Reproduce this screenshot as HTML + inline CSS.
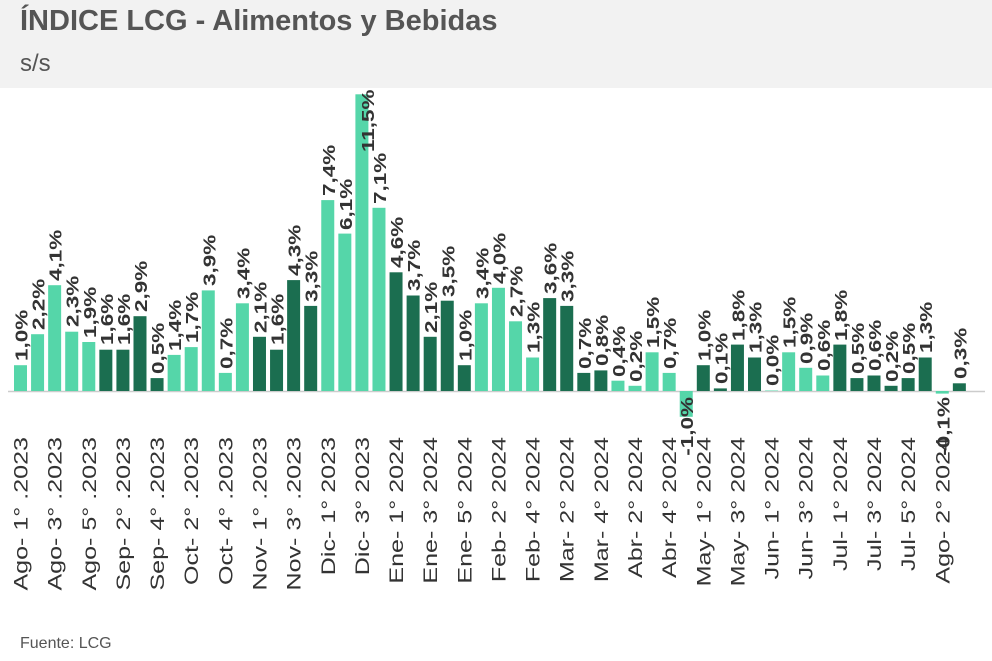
<!DOCTYPE html>
<html><head><meta charset="utf-8"><style>
body{margin:0;width:992px;height:661px;background:#fff;overflow:hidden;font-family:"Liberation Sans",sans-serif}
.hd{position:absolute;left:0;top:0;width:992px;height:88px;background:#f2f2f2}
.t{position:absolute;left:20px;top:5px;font-size:29px;font-weight:bold;color:#555}
.s{position:absolute;left:20px;top:50px;font-size:24px;color:#555}
.f{position:absolute;left:20px;top:635px;font-size:16px;color:#555}
svg{position:absolute;left:0;top:0}
.v{font-size:18px;font-weight:bold;fill:#333}
.x{font-size:19px;fill:#333}
</style></head><body>
<div class="hd"></div><div class="t">ÍNDICE LCG - Alimentos y Bebidas</div><div class="s">s/s</div>
<svg width="992" height="661">
<line x1="8" y1="391.5" x2="985" y2="391.5" stroke="#ccc" stroke-width="1.5"/>
<g fill="#55d6a9">
<rect x="14" y="365.2" width="13" height="25.8"/><rect x="31.07" y="334.2" width="13" height="56.8"/><rect x="48.14" y="285.2" width="13" height="105.8"/><rect x="65.21" y="331.7" width="13" height="59.3"/><rect x="82.28" y="342" width="13" height="49"/>
<rect x="167.63" y="354.9" width="13" height="36.1"/><rect x="184.7" y="347.1" width="13" height="43.9"/><rect x="201.77" y="290.4" width="13" height="100.6"/><rect x="218.84" y="372.9" width="13" height="18.1"/><rect x="235.91" y="303.3" width="13" height="87.7"/>
<rect x="321.26" y="200.1" width="13" height="190.9"/><rect x="338.33" y="233.6" width="13" height="157.4"/><rect x="355.4" y="94.3" width="13" height="296.7"/><rect x="372.47" y="207.8" width="13" height="183.2"/>
<rect x="474.89" y="303.3" width="13" height="87.7"/><rect x="491.96" y="287.8" width="13" height="103.2"/><rect x="509.03" y="321.3" width="13" height="69.7"/><rect x="526.1" y="357.5" width="13" height="33.5"/>
<rect x="611.45" y="380.7" width="13" height="10.3"/><rect x="628.52" y="385.8" width="13" height="5.2"/><rect x="645.59" y="352.3" width="13" height="38.7"/><rect x="662.66" y="372.9" width="13" height="18.1"/><rect x="679.73" y="391" width="13" height="25.8"/>
<rect x="765.08" y="390.5" width="13" height="0.5"/><rect x="782.15" y="352.3" width="13" height="38.7"/><rect x="799.22" y="367.8" width="13" height="23.2"/><rect x="816.29" y="375.5" width="13" height="15.5"/>
<rect x="935.78" y="391" width="13" height="2.6"/>
</g>
<g fill="#1b6e50">
<rect x="99.35" y="349.7" width="13" height="41.3"/><rect x="116.42" y="349.7" width="13" height="41.3"/><rect x="133.49" y="316.2" width="13" height="74.8"/><rect x="150.56" y="378.1" width="13" height="12.9"/>
<rect x="252.98" y="336.8" width="13" height="54.2"/><rect x="270.05" y="349.7" width="13" height="41.3"/><rect x="287.12" y="280.1" width="13" height="110.9"/><rect x="304.19" y="305.9" width="13" height="85.1"/>
<rect x="389.54" y="272.3" width="13" height="118.7"/><rect x="406.61" y="295.5" width="13" height="95.5"/><rect x="423.68" y="336.8" width="13" height="54.2"/><rect x="440.75" y="300.7" width="13" height="90.3"/><rect x="457.82" y="365.2" width="13" height="25.8"/>
<rect x="543.17" y="298.1" width="13" height="92.9"/><rect x="560.24" y="305.9" width="13" height="85.1"/><rect x="577.31" y="372.9" width="13" height="18.1"/><rect x="594.38" y="370.4" width="13" height="20.6"/>
<rect x="696.8" y="365.2" width="13" height="25.8"/><rect x="713.87" y="388.4" width="13" height="2.6"/><rect x="730.94" y="344.6" width="13" height="46.4"/><rect x="748.01" y="357.5" width="13" height="33.5"/>
<rect x="833.36" y="344.6" width="13" height="46.4"/><rect x="850.43" y="378.1" width="13" height="12.9"/><rect x="867.5" y="375.5" width="13" height="15.5"/><rect x="884.57" y="385.8" width="13" height="5.2"/><rect x="901.64" y="378.1" width="13" height="12.9"/><rect x="918.71" y="357.5" width="13" height="33.5"/>
<rect x="952.85" y="383.3" width="13" height="7.7"/>
</g>
<g class="v">
<text transform="translate(27.5,361) rotate(-90) scale(1.25,1)">1,0%</text>
<text transform="translate(44.6,330) rotate(-90) scale(1.25,1)">2,2%</text>
<text transform="translate(61.6,281) rotate(-90) scale(1.25,1)">4,1%</text>
<text transform="translate(78.7,327) rotate(-90) scale(1.25,1)">2,3%</text>
<text transform="translate(95.8,338) rotate(-90) scale(1.25,1)">1,9%</text>
<text transform="translate(112.9,345) rotate(-90) scale(1.25,1)">1,6%</text>
<text transform="translate(129.9,345) rotate(-90) scale(1.25,1)">1,6%</text>
<text transform="translate(147,312) rotate(-90) scale(1.25,1)">2,9%</text>
<text transform="translate(164.1,374) rotate(-90) scale(1.25,1)">0,5%</text>
<text transform="translate(181.1,351) rotate(-90) scale(1.25,1)">1,4%</text>
<text transform="translate(198.2,343) rotate(-90) scale(1.25,1)">1,7%</text>
<text transform="translate(215.3,286) rotate(-90) scale(1.25,1)">3,9%</text>
<text transform="translate(232.3,369) rotate(-90) scale(1.25,1)">0,7%</text>
<text transform="translate(249.4,299) rotate(-90) scale(1.25,1)">3,4%</text>
<text transform="translate(266.5,333) rotate(-90) scale(1.25,1)">2,1%</text>
<text transform="translate(283.6,345) rotate(-90) scale(1.25,1)">1,6%</text>
<text transform="translate(300.6,276) rotate(-90) scale(1.25,1)">4,3%</text>
<text transform="translate(317.7,302) rotate(-90) scale(1.25,1)">3,3%</text>
<text transform="translate(334.8,196) rotate(-90) scale(1.25,1)">7,4%</text>
<text transform="translate(351.8,230) rotate(-90) scale(1.25,1)">6,1%</text>
<text transform="translate(374,152) rotate(-90) scale(1.25,1)">11,5%</text>
<text transform="translate(386,204) rotate(-90) scale(1.25,1)">7,1%</text>
<text transform="translate(403,268) rotate(-90) scale(1.25,1)">4,6%</text>
<text transform="translate(420.1,291) rotate(-90) scale(1.25,1)">3,7%</text>
<text transform="translate(437.2,333) rotate(-90) scale(1.25,1)">2,1%</text>
<text transform="translate(454.3,297) rotate(-90) scale(1.25,1)">3,5%</text>
<text transform="translate(471.3,361) rotate(-90) scale(1.25,1)">1,0%</text>
<text transform="translate(488.4,299) rotate(-90) scale(1.25,1)">3,4%</text>
<text transform="translate(505.5,284) rotate(-90) scale(1.25,1)">4,0%</text>
<text transform="translate(522.5,317) rotate(-90) scale(1.25,1)">2,7%</text>
<text transform="translate(539.6,353) rotate(-90) scale(1.25,1)">1,3%</text>
<text transform="translate(556.7,294) rotate(-90) scale(1.25,1)">3,6%</text>
<text transform="translate(573.7,302) rotate(-90) scale(1.25,1)">3,3%</text>
<text transform="translate(590.8,369) rotate(-90) scale(1.25,1)">0,7%</text>
<text transform="translate(607.9,366) rotate(-90) scale(1.25,1)">0,8%</text>
<text transform="translate(625,377) rotate(-90) scale(1.25,1)">0,4%</text>
<text transform="translate(642,382) rotate(-90) scale(1.25,1)">0,2%</text>
<text transform="translate(659.1,348) rotate(-90) scale(1.25,1)">1,5%</text>
<text transform="translate(676.2,369) rotate(-90) scale(1.25,1)">0,7%</text>
<text transform="translate(693.2,397) rotate(-90) scale(1.25,1)" text-anchor="end">-1,0%</text>
<text transform="translate(710.3,361) rotate(-90) scale(1.25,1)">1,0%</text>
<text transform="translate(727.4,384) rotate(-90) scale(1.25,1)">0,1%</text>
<text transform="translate(744.4,341) rotate(-90) scale(1.25,1)">1,8%</text>
<text transform="translate(761.5,353) rotate(-90) scale(1.25,1)">1,3%</text>
<text transform="translate(778.6,386) rotate(-90) scale(1.25,1)">0,0%</text>
<text transform="translate(795.7,348) rotate(-90) scale(1.25,1)">1,5%</text>
<text transform="translate(812.7,364) rotate(-90) scale(1.25,1)">0,9%</text>
<text transform="translate(829.8,371) rotate(-90) scale(1.25,1)">0,6%</text>
<text transform="translate(846.9,341) rotate(-90) scale(1.25,1)">1,8%</text>
<text transform="translate(863.9,374) rotate(-90) scale(1.25,1)">0,5%</text>
<text transform="translate(881,371) rotate(-90) scale(1.25,1)">0,6%</text>
<text transform="translate(898.1,382) rotate(-90) scale(1.25,1)">0,2%</text>
<text transform="translate(915.1,374) rotate(-90) scale(1.25,1)">0,5%</text>
<text transform="translate(932.2,353) rotate(-90) scale(1.25,1)">1,3%</text>
<text transform="translate(949.3,397) rotate(-90) scale(1.25,1)" text-anchor="end">-0,1%</text>
<text transform="translate(966.4,379) rotate(-90) scale(1.25,1)">0,3%</text>
</g>
<g class="x" text-anchor="end">
<text transform="translate(27.5,437) rotate(-90) scale(1.32,1)">Ago- 1° .2023</text>
<text transform="translate(61.6,437) rotate(-90) scale(1.32,1)">Ago- 3° .2023</text>
<text transform="translate(95.8,437) rotate(-90) scale(1.32,1)">Ago- 5° .2023</text>
<text transform="translate(129.9,437) rotate(-90) scale(1.32,1)">Sep- 2° .2023</text>
<text transform="translate(164.1,437) rotate(-90) scale(1.32,1)">Sep- 4° .2023</text>
<text transform="translate(198.2,437) rotate(-90) scale(1.32,1)">Oct- 2° .2023</text>
<text transform="translate(232.3,437) rotate(-90) scale(1.32,1)">Oct- 4° .2023</text>
<text transform="translate(266.5,437) rotate(-90) scale(1.32,1)">Nov- 1° .2023</text>
<text transform="translate(300.6,437) rotate(-90) scale(1.32,1)">Nov- 3° .2023</text>
<text transform="translate(334.8,437) rotate(-90) scale(1.32,1)">Dic- 1° 2023</text>
<text transform="translate(368.9,437) rotate(-90) scale(1.32,1)">Dic- 3° 2023</text>
<text transform="translate(403,437) rotate(-90) scale(1.32,1)">Ene- 1° 2024</text>
<text transform="translate(437.2,437) rotate(-90) scale(1.32,1)">Ene- 3° 2024</text>
<text transform="translate(471.3,437) rotate(-90) scale(1.32,1)">Ene- 5° 2024</text>
<text transform="translate(505.5,437) rotate(-90) scale(1.32,1)">Feb- 2° 2024</text>
<text transform="translate(539.6,437) rotate(-90) scale(1.32,1)">Feb- 4° 2024</text>
<text transform="translate(573.7,437) rotate(-90) scale(1.32,1)">Mar- 2° 2024</text>
<text transform="translate(607.9,437) rotate(-90) scale(1.32,1)">Mar- 4° 2024</text>
<text transform="translate(642,437) rotate(-90) scale(1.32,1)">Abr- 2° 2024</text>
<text transform="translate(676.2,437) rotate(-90) scale(1.32,1)">Abr- 4° 2024</text>
<text transform="translate(710.3,437) rotate(-90) scale(1.32,1)">May- 1° 2024</text>
<text transform="translate(744.4,437) rotate(-90) scale(1.32,1)">May- 3° 2024</text>
<text transform="translate(778.6,437) rotate(-90) scale(1.32,1)">Jun- 1° 2024</text>
<text transform="translate(812.7,437) rotate(-90) scale(1.32,1)">Jun- 3° 2024</text>
<text transform="translate(846.9,437) rotate(-90) scale(1.32,1)">Jul- 1° 2024</text>
<text transform="translate(881,437) rotate(-90) scale(1.32,1)">Jul- 3° 2024</text>
<text transform="translate(915.1,437) rotate(-90) scale(1.32,1)">Jul- 5° 2024</text>
<text transform="translate(949.3,437) rotate(-90) scale(1.32,1)">Ago- 2° 2024</text>
</g>
</svg>
<div class="f">Fuente: LCG</div>
</body></html>
